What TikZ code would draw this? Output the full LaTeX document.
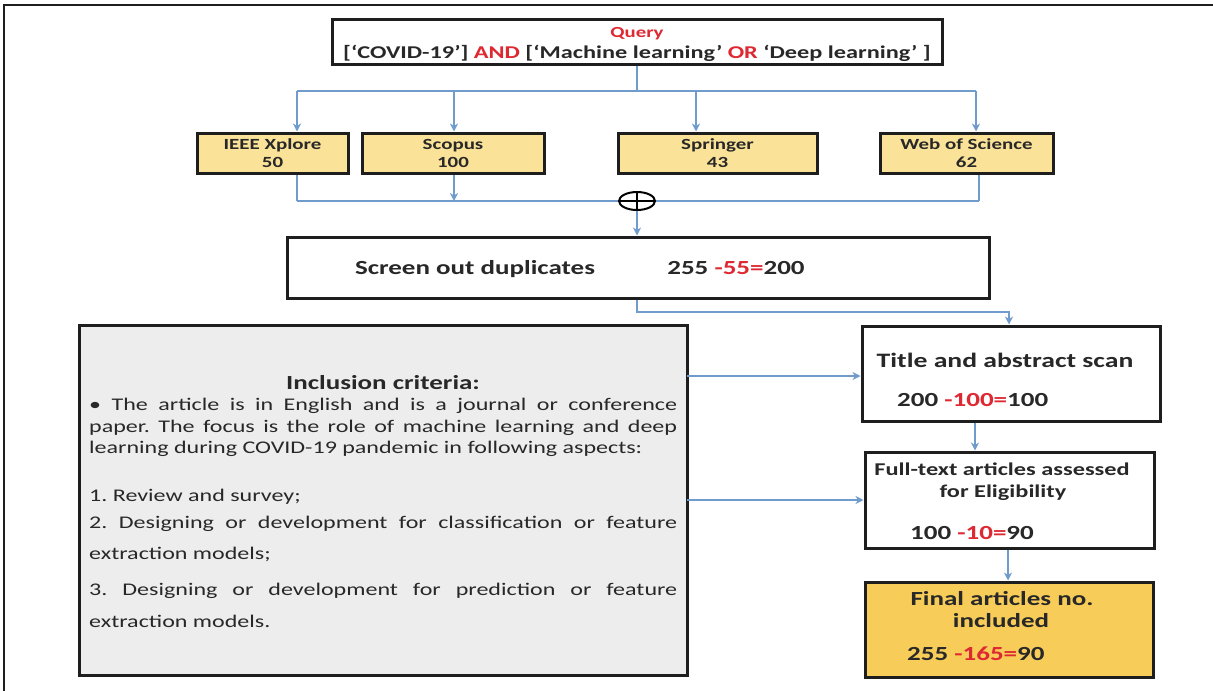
\documentclass[tikz,border=0pt]{standalone}
\usepackage{fontspec}
\setmainfont{Carlito}[FakeStretch=1.35]
\usetikzlibrary{arrows.meta,shapes.geometric}
\definecolor{flowblue}{RGB}{112,156,205}
\definecolor{qred}{RGB}{222,40,50}
\definecolor{ylight}{RGB}{250,227,152}
\definecolor{ydark}{RGB}{247,204,88}
\definecolor{gbox}{RGB}{237,237,237}
\definecolor{edge}{RGB}{30,30,30}
\definecolor{txt}{RGB}{40,40,40}
\frenchspacing
\begin{document}
\begin{tikzpicture}[x=1pt,y=-1pt,
  boxstyle/.style={draw=edge, line width=3pt, inner sep=0pt, rectangle},
  flow/.style={draw=flowblue, line width=1.8pt},
  arr/.style={flow, -{Stealth[length=8pt,width=8pt,inset=2.5pt]}},
  lbl/.style={inner sep=0pt, anchor=base, text=txt},
  lblw/.style={inner sep=0pt, anchor=base west, text=txt},
  srcfont/.style={font=\fontsize{15.5}{18}\selectfont\bfseries},
  bigfont/.style={font=\fontsize{20}{22}\selectfont\bfseries},
  body/.style={inner sep=0pt, anchor=base west, text=txt, font=\fontsize{17.8}{20}\selectfont},
]
\useasboundingbox (0,0) rectangle (1213,691);
\fill[white] (0,0) rectangle (1213,691);
\draw[line width=2.5pt, edge] (4,691) -- (4,5) -- (1213,5);

% boxes
\node[boxstyle, minimum width=610pt, minimum height=45pt] (query) at (637,41.5) {};
\node[boxstyle, fill=ylight, minimum width=151pt, minimum height=40pt] (ieee) at (272.5,153) {};
\node[boxstyle, fill=ylight, minimum width=182pt, minimum height=40pt] (scopus) at (453,153) {};
\node[boxstyle, fill=ylight, minimum width=199pt, minimum height=40pt] (springer) at (717.5,153) {};
\node[boxstyle, fill=ylight, minimum width=173pt, minimum height=40pt] (wos) at (966.5,153) {};
\node[boxstyle, minimum width=702pt, minimum height=61pt] (screen) at (638,267.5) {};
\node[boxstyle, fill=gbox, minimum width=608pt, minimum height=350pt] (incl) at (383,500) {};
\node[boxstyle, minimum width=298pt, minimum height=95pt] (title) at (1011,373.5) {};
\node[boxstyle, minimum width=289pt, minimum height=96pt] (full) at (1009.5,500) {};
\node[boxstyle, fill=ydark, minimum width=288pt, minimum height=95pt] (final) at (1009,629.5) {};

% query text
\node[lbl, text=qred, font=\fontsize{15.4}{18}\selectfont\bfseries] (qtitle) at (637,37) {Query};
\node[lbl, font=\fontsize{18}{20}\selectfont\bfseries] (qline) at (637,58) {[‘COVID-19’] \textcolor{qred}{AND} [‘Machine learning’ \textcolor{qred}{OR} ‘Deep learning’ ]};

% source labels
\node[lbl, srcfont] (ieeeA) at (272.5,149) {IEEE Xplore};
\node[lbl, srcfont] (ieeeB) at (272.5,167) {50};
\node[lbl, srcfont] (scopA) at (453,149) {Scopus};
\node[lbl, srcfont] (scopB) at (453,167) {100};
\node[lbl, srcfont] (sprA) at (717.5,149) {Springer};
\node[lbl, srcfont] (sprB) at (717.5,167) {43};
\node[lbl, srcfont] (wosA) at (966.5,149) {Web of Science};
\node[lbl, srcfont] (wosB) at (966.5,167) {62};

% screen text
\node[lbl, bigfont] (scrA) at (475,274) {Screen out duplicates};
\node[lbl, bigfont] (scrB) at (736,274) {255 \textcolor{qred}{-55=}200};

% right column text
\node[lbl, font=\fontsize{20.5}{22}\selectfont\bfseries] (titA) at (1005,367) {Title and abstract scan};
\node[lblw, bigfont] (titB) at (897,406) {200 \textcolor{qred}{-100=}100};
\node[lbl, font=\fontsize{18}{20}\selectfont\bfseries] (fullA) at (1002,475) {Full-text articles assessed};
\node[lbl, font=\fontsize{18}{20}\selectfont\bfseries] (fullB) at (1003,497) {for Eligibility};
\node[lblw, bigfont] (fullC) at (910,539) {100 \textcolor{qred}{-10=}90};
\node[lbl, bigfont] (finA) at (1002,605) {Final articles no.};
\node[lbl, bigfont] (finB) at (1001,627) {included};
\node[lblw, bigfont] (finC) at (907,660) {255 \textcolor{qred}{-165=}90};

% inclusion text
\node[lbl, font=\fontsize{20}{22}\selectfont\bfseries] (inctitle) at (383,389) {Inclusion criteria:};
\node[body] (in1) at (89,410) {\makebox[588pt][s]{• The article is in English and is a journal or conference}};
\node[body] (in2) at (89,432) {\makebox[588pt][s]{paper. The focus is the role of machine learning and deep}};
\node[body] (in3) at (89,453) {learning during COVID-19 pandemic in following aspects:};
\node[body] (in4) at (89,501) {1. Review and survey;};
\node[body] (in5) at (89,528) {\makebox[588pt][s]{2. Designing or development for classification or feature}};
\node[body] (in6) at (89,559) {extraction models;};
\node[body] (in7) at (89,595) {\makebox[588pt][s]{3. Designing or development for prediction or feature}};
\node[body] (in8) at (89,627) {extraction models.};

% connectors top
\coordinate (split) at (637,91);
\coordinate (sl) at (297,91);
\coordinate (s2) at (454,91);
\coordinate (s3) at (696,91);
\coordinate (sr) at (976,91);
\draw[flow] (query.south) -- (split);
\draw[flow] (sl) -- (sr);
\draw[arr] (sl) -- (sl |- ieee.north);
\draw[arr] (s2) -- (s2 |- scopus.north);
\draw[arr] (s3) -- (s3 |- springer.north);
\draw[arr] (sr) -- (sr |- wos.north);

% merge
\coordinate (ml) at (297,201);
\coordinate (m2) at (454,201);
\coordinate (mr) at (979,201);
\draw[flow] (ml) -- (mr);
\draw[flow] (ml |- ieee.south) -- (ml);
\draw[arr] (m2 |- scopus.south) -- (m2);
\draw[flow] (mr |- wos.south) -- (mr);
\node[ellipse, draw=black, line width=2pt, fill=white, minimum width=36pt, minimum height=18pt, inner sep=0pt] (plus) at (637,201) {};
\draw[line width=2pt] (plus.west) -- (plus.east);
\draw[line width=2pt] (plus.north) -- (plus.south);
\draw[arr] (plus.south) -- (plus.south |- screen.north);

% screen to title
\coordinate (t1) at (637,312);
\coordinate (t2) at (1009,312);
\draw[arr] (t1 |- screen.south) -- (t1) -- (t2) -- (t2 |- title.north);

% inclusion to right column
\coordinate (a1) at (687,376);
\coordinate (a2) at (687,500);
\draw[arr] (a1) -- (a1 -| title.west);
\draw[arr] (a2) -- (a2 -| full.west);

% down the right column
\coordinate (d1) at (975,421);
\coordinate (d2) at (1008,548);
\draw[arr] (d1 |- title.south) -- (d1 |- full.north);
\draw[arr] (d2 |- full.south) -- (d2 |- final.north);
\end{tikzpicture}
\end{document}
